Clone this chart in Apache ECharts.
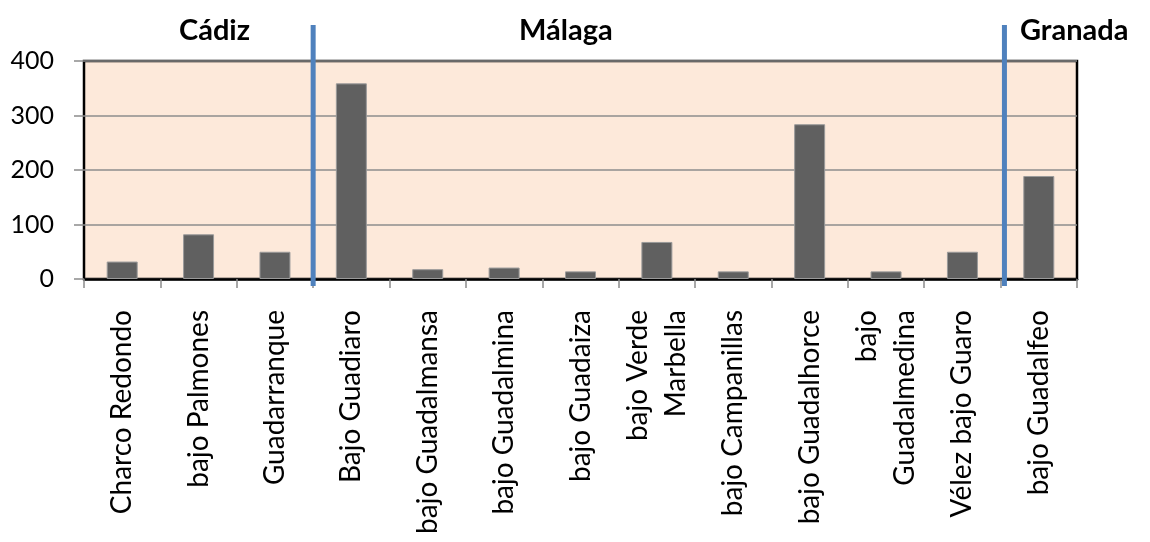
<!DOCTYPE html>
<html><head><meta charset="utf-8">
<script src="https://cdn.jsdelivr.net/npm/echarts@6/dist/echarts.min.js"></script>
<style>html,body{margin:0;padding:0;background:#fff}#c{width:1150px;height:542px}</style>
</head><body><div id="c"></div>
<script>
const categories = ["Charco Redondo","bajo Palmones","Guadarranque","Bajo Guadiaro","bajo Guadalmansa","bajo Guadalmina","bajo Guadaiza","bajo Verde\nMarbella","bajo Campanillas","bajo Guadalhorce","bajo\nGuadalmedina","Vélez bajo Guaro","bajo Guadalfeo"];
const values = [32, 82, 50, 359, 18, 21, 14, 68, 14, 284, 14, 50, 189];
const yTicks = [0, 100, 200, 300, 400];
const regions = ["Cádiz", "Málaga", "Granada"];
const dividers = [3, 12]; // boundaries between provinces (category index)

const chart = echarts.init(document.getElementById('c'));
const F = 'Lato, "Liberation Sans", sans-serif';
chart.setOption({
  animation: false,
  grid: {left: 84, right: 73, top: 61, bottom: 263, show: true, backgroundColor: '#FDE9DA', borderColor: '#000', borderWidth: 2.5},
  title: [
    {text: regions[0], left: 174, top: 11, textStyle: {fontFamily: F, fontWeight: 'bold', fontSize: 29, color: '#000'}},
    {text: regions[1], left: 514, top: 11, textStyle: {fontFamily: F, fontWeight: 'bold', fontSize: 29, color: '#000'}},
    {text: regions[2], left: 1015, top: 11, textStyle: {fontFamily: F, fontWeight: 'bold', fontSize: 29, color: '#000'}}
  ],
  xAxis: {
    type: 'category', data: categories, boundaryGap: true,
    axisLine: {show: true, lineStyle: {color: '#000', width: 2.5}},
    axisTick: {show: true, length: 9, lineStyle: {color: '#8c8c8c', width: 1.5}},
    axisLabel: {rotate: 90, interval: 0, margin: 31, fontFamily: F, fontSize: 28, color: '#000', lineHeight: 38}
  },
  yAxis: {
    type: 'value', min: 0, max: 400, interval: 100,
    axisLine: {show: false},
    axisTick: {show: true, length: 10, lineStyle: {color: '#8c8c8c', width: 1.5}},
    splitLine: {show: true, lineStyle: {color: '#8c8c8c', width: 1.5}},
    axisLabel: {margin: 30, fontFamily: F, fontSize: 25, color: '#000',
      formatter: v => yTicks.includes(v) ? String(v) : ''}
  },
  series: [{
    type: 'bar', data: values, barWidth: 31,
    itemStyle: {color: '#606060', borderColor: '#9a9a9a', borderWidth: 1}
  }]
});

function drawDividers() {
  const els = dividers.map((d, i) => {
    const a = chart.convertToPixel({xAxisIndex: 0}, d - 1);
    const b = chart.convertToPixel({xAxisIndex: 0}, Math.min(d, categories.length - 1));
    let x = (a + b) / 2;
    if (d >= categories.length - 1) x = a + (chart.convertToPixel({xAxisIndex: 0}, 1) - chart.convertToPixel({xAxisIndex: 0}, 0)) * 0.55;
    const y0 = chart.convertToPixel({yAxisIndex: 0}, 0);
    return {type: 'line', z: 100, shape: {x1: x, y1: 25, x2: x, y2: y0 + 7}, style: {stroke: '#4F81BD', lineWidth: 5}};
  });
  chart.setOption({graphic: els});
}
drawDividers();
</script></body></html>
